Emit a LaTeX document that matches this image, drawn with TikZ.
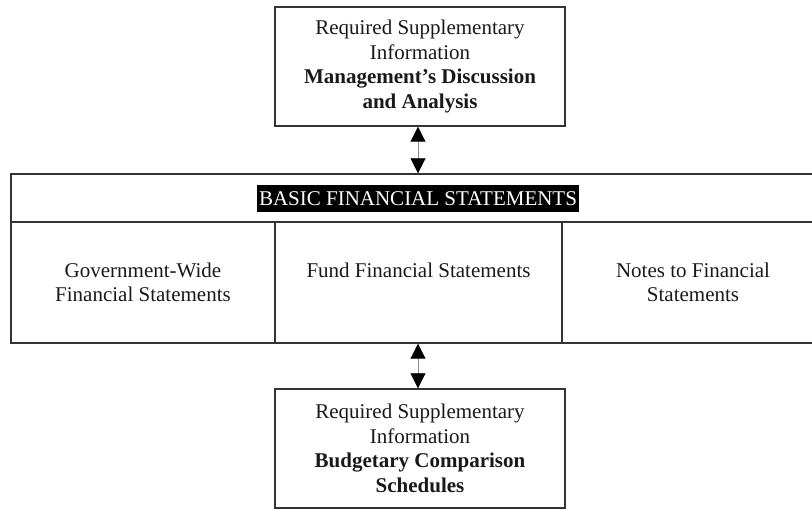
\documentclass[tikz,border=0pt]{standalone}
\usepackage{fontspec}
\setmainfont{Liberation Serif}
\usetikzlibrary{arrows.meta}

\begin{document}
\begin{tikzpicture}[x=1pt,y=-1pt,
  every node/.style={font=\fontsize{21}{24.5}\selectfont, text=black!90},
  frame/.style={draw=black!80, line width=1.4pt, inner sep=0pt},
  rsibox/.style={frame, fill=white, align=center, minimum width=290pt, minimum height=119pt},
  cell/.style={frame, minimum height=121pt},
  celltext/.style={align=center, anchor=north, inner sep=0pt},
  banner/.style={fill=black, text=white, inner xsep=2pt, inner ysep=0pt, minimum height=27pt},
  link/.style={draw=black!45, line width=0.9pt,
    {Triangle[length=15pt,width=15pt,color=black]}-{Triangle[length=15pt,width=15pt,color=black]}}
]
\useasboundingbox (0,0) rectangle (812,510);
\clip (0,0) rectangle (812,510);

% supplementary information above
\node[rsibox] (mda) at (420,66.5)
  {Required Supplementary\\Information\\\textbf{Management's Discussion}\\\textbf{and Analysis}};

% basic financial statements block
\node[cell, minimum width=813pt, minimum height=48pt] (head) at (417.5,198) {};
\node[banner] (title) at (418,198.5) {BASIC FINANCIAL STATEMENTS};
\node[cell, minimum width=264pt] (gw) at (143,282.5) {};
\node[cell, minimum width=287pt] (ff) at (418.5,282.5) {};
\node[cell, minimum width=262pt] (nf) at (693,282.5) {};

\node[celltext] (gwt) at (143,262.5) {Government-Wide\\Financial Statements};
\node[celltext] (fft) at (418.5,262.5) {Fund Financial Statements};
\node[celltext] (nft) at (693,262.5) {Notes to Financial\\Statements};

% supplementary information below
\node[rsibox] (bcs) at (420,448.5)
  {Required Supplementary\\Information\\\textbf{Budgetary Comparison}\\\textbf{Schedules}};

% two-way links
\draw[link] (mda.south -| title.north) -- (head.north -| title.north);
\draw[link] (ff.south -| title.north) -- (bcs.north -| title.north);
\end{tikzpicture}
\end{document}
